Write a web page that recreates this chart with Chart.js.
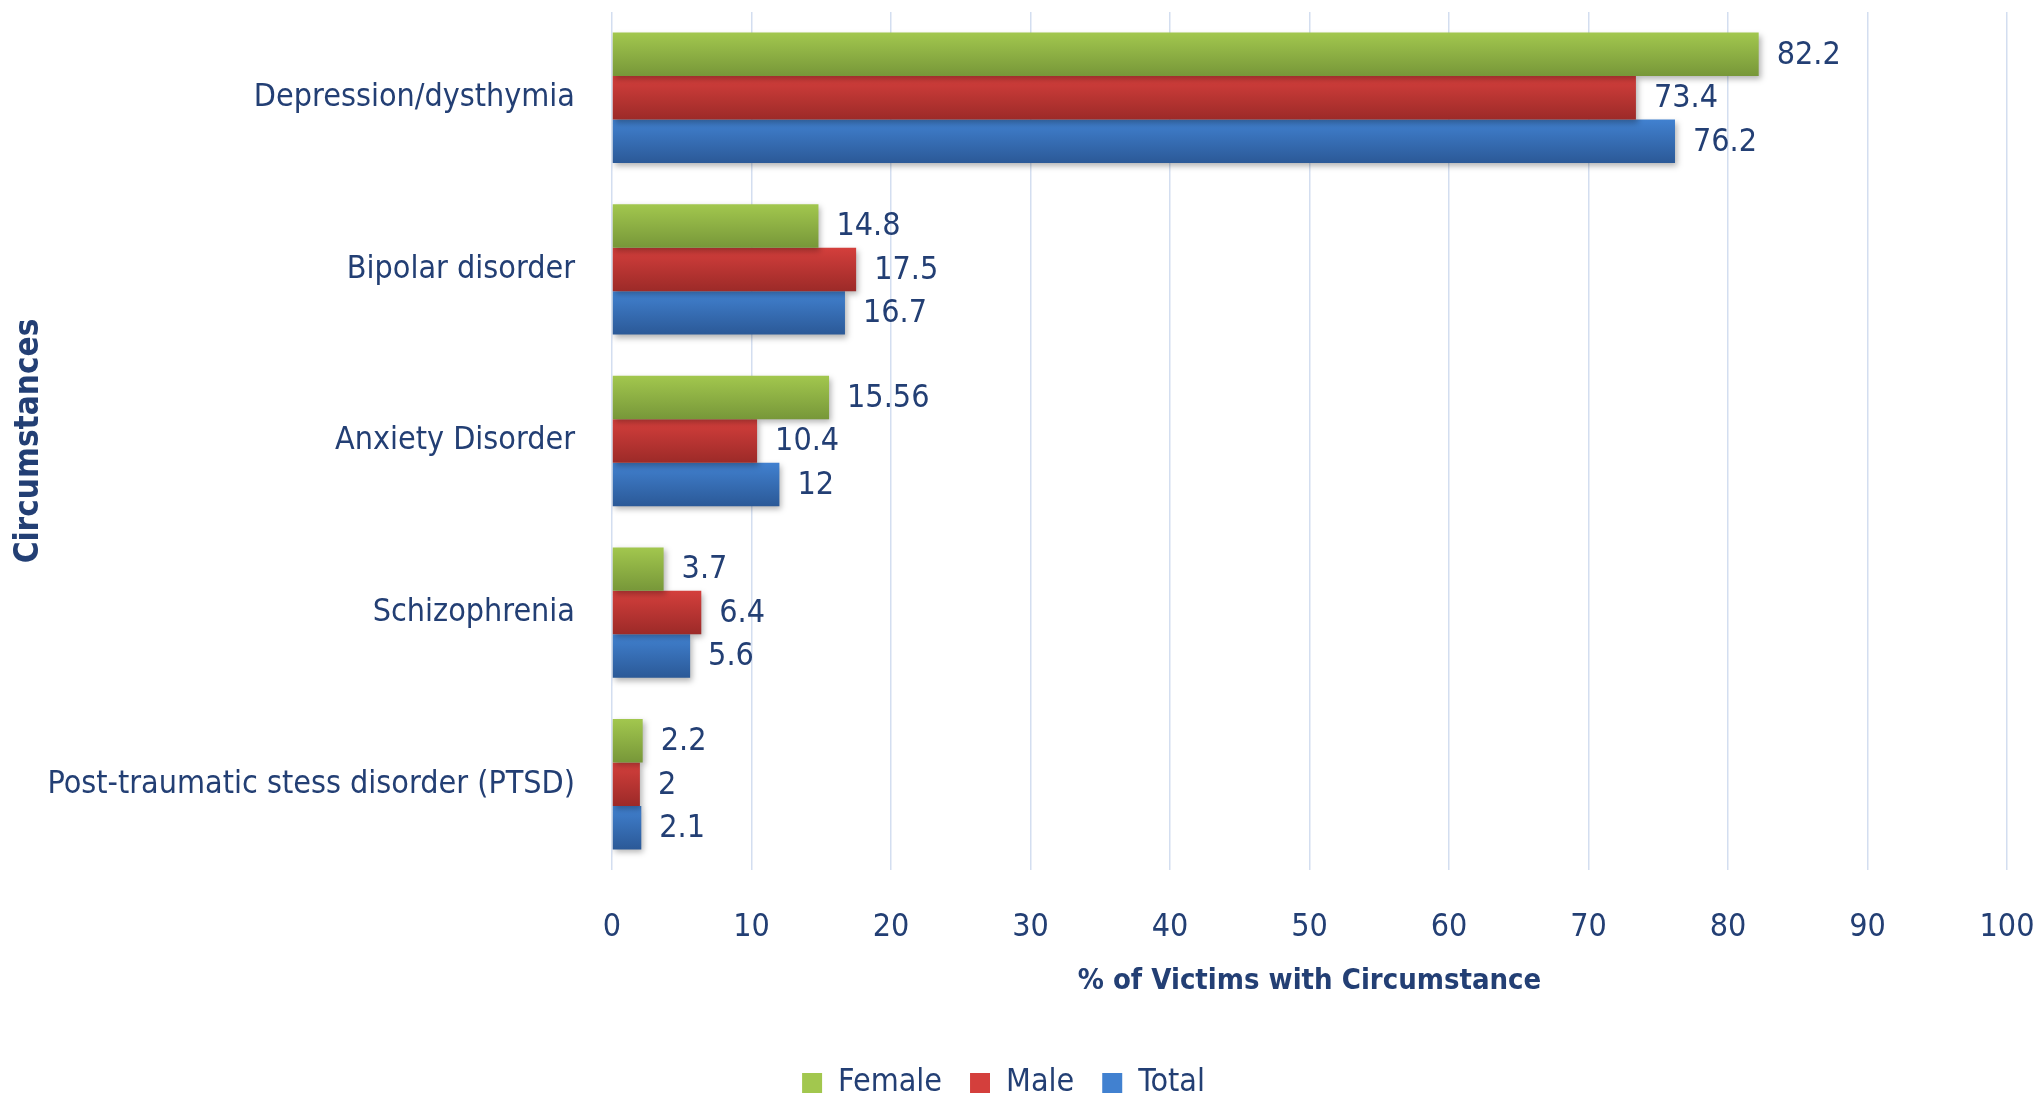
<!DOCTYPE html>
<html>
<head>
<meta charset="utf-8">
<script src="https://cdn.jsdelivr.net/npm/chart.js@4/dist/chart.umd.min.js"></script>
<style>
    html, body { margin: 0; padding: 0; background: #fff; }
    #wrap { width: 2040px; height: 1100px; position: relative; }
</style>
</head>
<body>
<div id="wrap"><canvas id="circ-chart"></canvas></div>
<script>
// ==========================================
// Circumstances by sex (horizontal bars)
// ==========================================

const CATEGORIES = [
    'Depression/dysthymia',
    'Bipolar disorder',
    'Anxiety Disorder',
    'Schizophrenia',
    'Post-traumatic stess disorder (PTSD)'
];
const SERIES_NAMES = ['Female', 'Male', 'Total'];
const FEMALE = [82.2, 14.8, 15.56, 3.7, 2.2];
const MALE   = [73.4, 17.5, 10.4, 6.4, 2];
const TOTAL  = [76.2, 16.7, 12, 5.6, 2.1];
const X_TICKS = [0, 10, 20, 30, 40, 50, 60, 70, 80, 90, 100];

// ── 樣式 ──
const FONT      = '"Liberation Sans Narrow", "Arial Narrow", "DejaVu Sans Condensed", "Liberation Sans", sans-serif';
const TEXT_CLR  = '#233f74';
const GRID_CLR  = '#d3def0';
const CAT_PCT   = 0.76;
const GRADIENTS = [
    ['#a2c74e', '#779739'],   // Female
    ['#d43f3c', '#9c2a28'],   // Male
    ['#4181d0', '#2b5997']    // Total
];

// ── 每根柱子的直向漸層 ──
function makeFill(stops) {
    return (c) => {
        const chart = c.chart;
        const y = chart.scales && chart.scales.y;
        if (c.type !== 'data' || !y || !chart.chartArea) return stops[0];
        const catH  = (y.bottom - y.top) / CATEGORIES.length;
        const group = catH * CAT_PCT;
        const barH  = group / SERIES_NAMES.length;
        const top   = y.getPixelForValue(c.dataIndex) - group / 2 + c.datasetIndex * barH;
        const g = chart.ctx.createLinearGradient(0, top, 0, top + barH);
        g.addColorStop(0, stops[0]);
        g.addColorStop(1, stops[1]);
        return g;
    };
}

// ── 陰影 + 數值標籤 ──
const barExtras = {
    id: 'barExtras',
    beforeDatasetsDraw(chart) {
        const ctx = chart.ctx;
        ctx.save();
        ctx.shadowColor   = 'rgba(0,0,0,0.30)';
        ctx.shadowBlur    = 6;
        ctx.shadowOffsetX = 2;
        ctx.shadowOffsetY = 3;
    },
    afterDatasetsDraw(chart) {
        const ctx = chart.ctx;
        ctx.restore();
        ctx.save();
        ctx.font = `32px ${FONT}`;
        ctx.fillStyle = TEXT_CLR;
        ctx.textAlign = 'left';
        ctx.textBaseline = 'middle';
        chart.data.datasets.forEach((ds, di) => {
            chart.getDatasetMeta(di).data.forEach((bar, i) => {
                ctx.fillText(String(ds.data[i]), bar.x + 18, bar.y + 1);
            });
        });
        ctx.restore();
    }
};

const seriesData = [FEMALE, MALE, TOTAL];

new Chart(document.getElementById('circ-chart').getContext('2d'), {
    type: 'bar',
    data: {
        labels: CATEGORIES,
        datasets: SERIES_NAMES.map((name, i) => ({
            label: name,
            data: seriesData[i],
            backgroundColor: makeFill(GRADIENTS[i]),
            borderWidth: 0,
            categoryPercentage: CAT_PCT,
            barPercentage: 1
        }))
    },
    options: {
        indexAxis: 'y',
        responsive: true,
        maintainAspectRatio: false,
        animation: false,
        layout: { padding: { top: 12, right: 33, bottom: -9, left: 0 } },
        plugins: {
            tooltip: { enabled: false },
            legend: {
                position: 'bottom',
                labels: {
                    color: TEXT_CLR,
                    font: { family: FONT, size: 32 },
                    boxWidth: 20,
                    boxHeight: 20,
                    padding: 28,
                    generateLabels: () => SERIES_NAMES.map((name, i) => ({
                        text: name,
                        fillStyle: GRADIENTS[i][0],
                        strokeStyle: GRADIENTS[i][0],
                        lineWidth: 0,
                        fontColor: TEXT_CLR,
                        datasetIndex: i
                    }))
                }
            }
        },
        scales: {
            x: {
                min: 0,
                max: 100,
                afterBuildTicks: (s) => { s.ticks = X_TICKS.map(v => ({ value: v })); },
                afterFit: (s) => {
                    s.height = 169;
                    s.paddingLeft = 0;
                    s.paddingRight = 0;
                },
                grid: { color: GRID_CLR, lineWidth: 1.5, drawTicks: false },
                border: { display: false },
                ticks: {
                    color: TEXT_CLR,
                    font: { family: FONT, size: 32 },
                    padding: 38
                },
                title: {
                    display: true,
                    text: '% of Victims with Circumstance',
                    color: TEXT_CLR,
                    font: { family: FONT, size: 29, weight: 'bold' },
                    padding: { top: 0, bottom: 40 }
                }
            },
            y: {
                afterFit: (s) => {
                    s.width = 612;
                    s.paddingTop = 0;
                    s.paddingBottom = 0;
                },
                grid: { display: false, drawTicks: false },
                border: { display: false },
                ticks: {
                    color: TEXT_CLR,
                    font: { family: FONT, size: 32 },
                    padding: 37
                },
                title: {
                    display: true,
                    text: 'Circumstances',
                    color: TEXT_CLR,
                    font: { family: FONT, size: 33, weight: 'bold' },
                    padding: { top: 10, bottom: 0 }
                }
            }
        }
    },
    plugins: [barExtras]
});
</script>
</body>
</html>
